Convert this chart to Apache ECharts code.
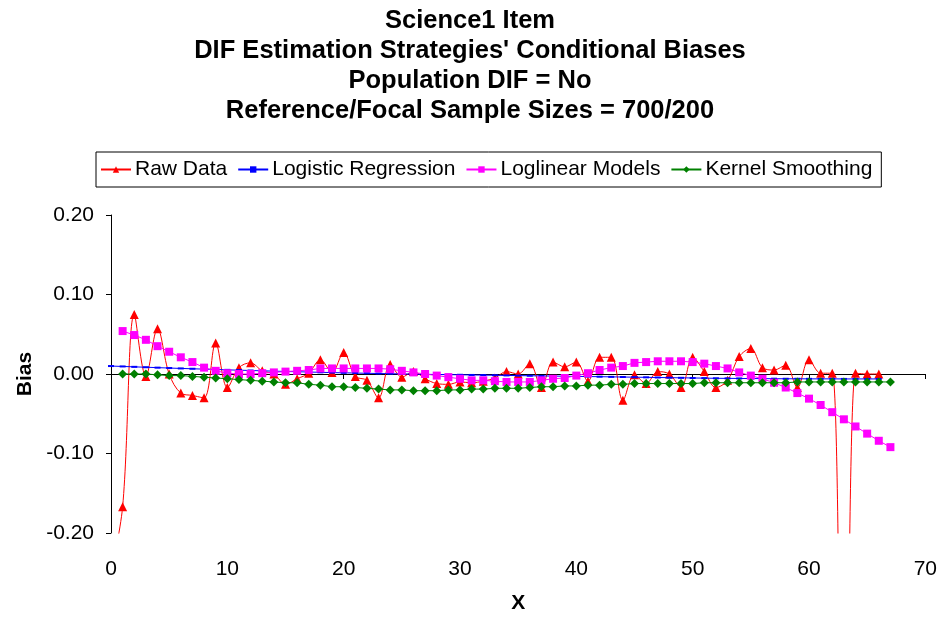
<!DOCTYPE html>
<html>
<head>
<meta charset="utf-8">
<script src="https://cdn.jsdelivr.net/npm/echarts@6/dist/echarts.min.js"></script>
<style>
html,body{margin:0;padding:0;background:#fff;}
#chart{width:940px;height:619px;}
</style>
</head>
<body>
<div id="chart"></div>
<script>
const titleLines = ["Science1 Item", "DIF Estimation Strategies' Conditional Biases", "Population DIF = No", "Reference/Focal Sample Sizes = 700/200"];
const seriesNames = ["Raw Data", "Logistic Regression", "Loglinear Models", "Kernel Smoothing"];
const xTicks = [0, 10, 20, 30, 40, 50, 60, 70];
const yTicks = [-0.2, -0.1, 0, 0.1, 0.2];

const xA = [0,1,2,3,4,5,6,7,8,9,10,11,12,13,14,15,16,17,18,19,20,21,22,23,24,25,26,27,28,29,30,31,32,33,34,35,36,37,38,39,40,41,42,43,44,45,46,47,48,49,50,51,52,53,54,55,56,57,58,59,60,61,62,63,64,65,66];
const xB = [1,2,3,4,5,6,7,8,9,10,11,12,13,14,15,16,17,18,19,20,21,22,23,24,25,26,27,28,29,30,31,32,33,34,35,36,37,38,39,40,41,42,43,44,45,46,47,48,49,50,51,52,53,54,55,56,57,58,59,60,61,62,63,64,65,66,67];

const rawData = [-0.25,-0.167,0.075,-0.003,0.057,0.000,-0.024,-0.027,-0.030,0.039,
  -0.017,0.008,0.014,0.004,0.000,-0.013,-0.006,0.001,0.018,0.002,
  0.027,-0.003,-0.008,-0.030,0.012,-0.004,0.003,-0.006,-0.012,-0.013,
  -0.010,-0.011,-0.009,-0.005,0.003,0.000,0.013,-0.017,0.015,0.009,
  0.015,-0.009,0.021,0.021,-0.033,-0.001,-0.012,0.003,0.000,-0.017,
  0.021,0.003,-0.017,-0.008,0.022,0.032,0.008,0.005,0.011,-0.017,
  0.018,0.001,0.001,-0.75,0.001,0.000,0.000];

const logisticData = [0.0100,0.0095,0.0090,0.0085,0.0080,0.0075,0.0070,0.0066,0.0061,0.0057,
  0.0052,0.0048,0.0044,0.0040,0.0036,0.0032,0.0028,0.0025,0.0021,0.0018,
  0.0015,0.0012,0.0009,0.0006,0.0004,0.0001,-0.0001,-0.0004,-0.0006,-0.0008,
  -0.0010,-0.0012,-0.0014,-0.0016,-0.0018,-0.0020,-0.0022,-0.0024,-0.0026,-0.0028,
  -0.0030,-0.0032,-0.0034,-0.0036,-0.0038,-0.0040,-0.0042,-0.0044,-0.0046,-0.0048,
  -0.0050,-0.0052,-0.0054,-0.0055,-0.0056,-0.0057,-0.0058,-0.0059,-0.0060,-0.0060,
  -0.0061,-0.0061,-0.0061,-0.0062,-0.0062,-0.0062,-0.0062];

const loglinearData = [0.054,0.049,0.043,0.035,0.028,0.021,0.015,0.008,0.004,0.001,
  0.000,0.000,0.001,0.002,0.003,0.004,0.005,0.007,0.007,0.007,
  0.007,0.007,0.007,0.006,0.004,0.002,0.000,-0.002,-0.004,-0.006,
  -0.008,-0.008,-0.009,-0.010,-0.010,-0.010,-0.008,-0.006,-0.005,-0.002,
  0.001,0.005,0.008,0.010,0.014,0.015,0.016,0.016,0.016,0.015,
  0.013,0.010,0.007,0.002,-0.002,-0.006,-0.011,-0.017,-0.024,-0.031,
  -0.039,-0.048,-0.057,-0.066,-0.075,-0.084,-0.092];

const kernelData = [0.000,0.000,0.000,-0.001,-0.002,-0.002,-0.003,-0.004,-0.005,-0.006,
  -0.007,-0.008,-0.009,-0.010,-0.011,-0.011,-0.013,-0.014,-0.016,-0.016,
  -0.017,-0.018,-0.019,-0.020,-0.020,-0.021,-0.021,-0.021,-0.020,-0.020,
  -0.019,-0.019,-0.018,-0.018,-0.018,-0.017,-0.016,-0.016,-0.015,-0.015,
  -0.014,-0.014,-0.013,-0.013,-0.012,-0.012,-0.012,-0.012,-0.012,-0.012,
  -0.011,-0.011,-0.011,-0.011,-0.011,-0.011,-0.011,-0.011,-0.010,-0.010,
  -0.010,-0.010,-0.010,-0.010,-0.010,-0.010,-0.010];

function pairs(xs, ys) { return xs.map((x, i) => [x, ys[i]]); }

const FONT = '"Liberation Sans", Arial, sans-serif';
const chart = echarts.init(document.getElementById('chart'), null, {renderer: 'canvas'});

chart.setOption({
  backgroundColor: '#ffffff',
  animation: false,
  textStyle: {fontFamily: FONT, color: '#000'},
  title: {
    text: titleLines.join('\n'),
    left: 'center',
    top: 1,
    textStyle: {fontFamily: FONT, fontSize: 25.5, fontWeight: 'bold', color: '#000', lineHeight: 30}
  },
  legend: {
    data: seriesNames,
    left: 96,
    top: 152,
    padding: [7, 9, 7, 4],
    itemGap: 10,
    itemWidth: 30,
    itemHeight: 8,
    borderColor: '#000',
    borderWidth: 1,
    textStyle: {fontFamily: FONT, fontSize: 21, color: '#000', padding: [0, 0, 0, -1]}
  },
  grid: {left: 111, right: 13, top: 215, bottom: 82, containLabel: false},
  xAxis: [
    {
      type: 'value', min: xTicks[0], max: xTicks[xTicks.length - 1], interval: 10,
      position: 'bottom',
      axisLine: {show: true, onZero: true, lineStyle: {color: '#000', width: 1}},
      axisTick: {show: true, inside: false, length: 5, lineStyle: {color: '#000'}},
      axisLabel: {show: false},
      splitLine: {show: false}
    },
    {
      type: 'value', min: xTicks[0], max: xTicks[xTicks.length - 1], interval: 10,
      position: 'bottom',
      axisLine: {show: false, onZero: false},
      axisTick: {show: false},
      axisLabel: {show: true, fontFamily: FONT, fontSize: 21, color: '#000', margin: 26},
      splitLine: {show: false},
      name: 'X', nameLocation: 'middle', nameGap: 60,
      nameTextStyle: {fontFamily: FONT, fontSize: 21, fontWeight: 'bold', color: '#000'}
    }
  ],
  yAxis: {
    type: 'value', min: yTicks[0], max: yTicks[yTicks.length - 1], interval: 0.1,
    axisLine: {show: true, lineStyle: {color: '#000', width: 1}},
    axisTick: {show: true, inside: false, length: 5, lineStyle: {color: '#000'}},
    axisLabel: {fontFamily: FONT, fontSize: 21, color: '#000', margin: 17,
      formatter: v => v.toFixed(2)},
    splitLine: {show: false},
    name: 'Bias', nameLocation: 'middle', nameGap: 71, nameRotate: 90,
    nameTextStyle: {fontFamily: FONT, fontSize: 21, fontWeight: 'bold', color: '#000'}
  },
  series: [
    {
      name: seriesNames[0], type: 'line', xAxisIndex: 0, data: pairs(xA, rawData),
      smooth: 0.35, symbol: 'triangle', symbolSize: 9, clip: true,
      lineStyle: {color: '#ff0000', width: 1}, itemStyle: {color: '#ff0000'}, z: 2
    },
    {
      name: seriesNames[1], type: 'line', xAxisIndex: 0, data: pairs(xA, logisticData),
      symbol: 'rect', symbolSize: [6, 2], clip: true,
      lineStyle: {color: '#0000ff', width: 1}, itemStyle: {color: '#0000ff'}, z: 3
    },
    {
      name: seriesNames[2], type: 'line', xAxisIndex: 0, data: pairs(xB, loglinearData),
      symbol: 'rect', symbolSize: 8, clip: true,
      lineStyle: {color: '#ff00ff', width: 1}, itemStyle: {color: '#ff00ff'}, z: 4
    },
    {
      name: seriesNames[3], type: 'line', xAxisIndex: 0, data: pairs(xB, kernelData),
      symbol: 'diamond', symbolSize: 9, clip: true,
      lineStyle: {color: '#008000', width: 1}, itemStyle: {color: '#008000'}, z: 5
    }
  ]
});
</script>
</body>
</html>
